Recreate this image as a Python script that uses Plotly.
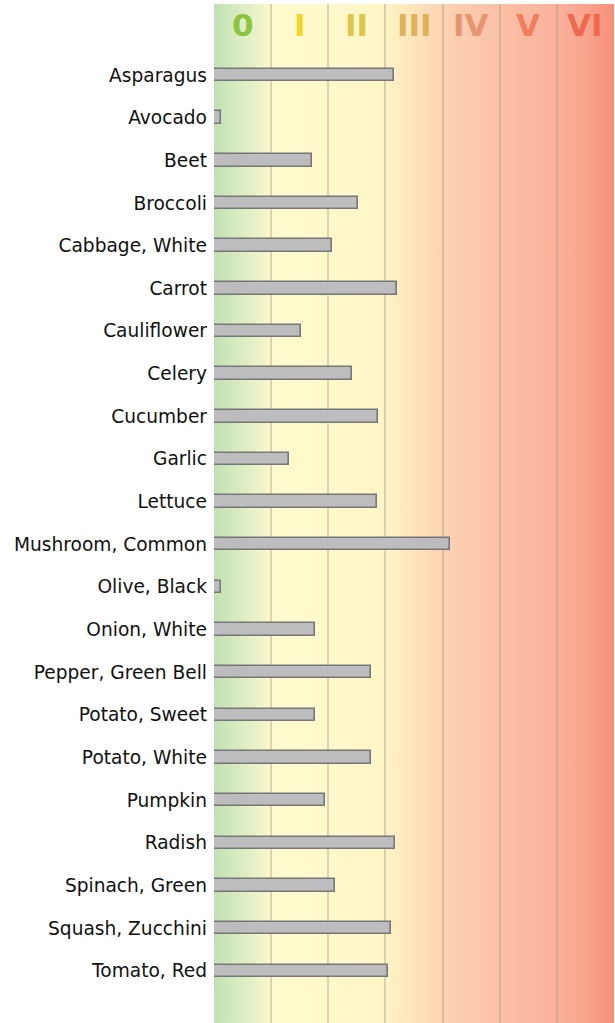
import base64
import plotly.graph_objects as go

# ---- data ----
vegetables = ["Asparagus", "Avocado", "Beet", "Broccoli", "Cabbage, White", "Carrot",
              "Cauliflower", "Celery", "Cucumber", "Garlic", "Lettuce", "Mushroom, Common",
              "Olive, Black", "Onion, White", "Pepper, Green Bell", "Potato, Sweet",
              "Potato, White", "Pumpkin", "Radish", "Spinach, Green", "Squash, Zucchini",
              "Tomato, Red"]
scores = [3.15, 0.12, 1.71, 2.52, 2.06, 3.21, 1.52, 2.41, 2.87, 1.31, 2.86, 4.13,
          0.12, 1.77, 2.75, 1.76, 2.74, 1.94, 3.17, 2.11, 3.10, 3.05]
band_labels = ["0", "I", "II", "III", "IV", "V", "VI"]
band_label_colors = ["#8cc43f", "#f1d62a", "#dcc64c", "#dfb15a", "#e69572", "#ee805e", "#ee6a4f"]
gradient_stops = [(0.0, "#bfe0b3"), (0.04, "#d0e8bc"), (0.08, "#e0eec4"), (0.125, "#f3f5cb"),
                  (0.143, "#fffacd"), (0.42, "#fff6c7"), (0.50, "#fde4bb"), (0.571, "#fcd3b2"),
                  (0.714, "#fbc0a6"), (0.857, "#fab29b"), (0.93, "#f9a38d"), (1.0, "#f68f7b")]

n = len(vegetables)
idx = list(range(n))
nb = len(band_labels)
y_top = -1.664
y_bottom = 22.22
header_bottom = -0.687
header_mid = -1.17

# gradient background as an svg image
stops = "".join(f'<stop offset="{o}" stop-color="{c}"/>' for o, c in gradient_stops)
svg = ('<svg xmlns="http://www.w3.org/2000/svg" width="700" height="100" viewBox="0 0 700 100" '
       'preserveAspectRatio="none"><defs><linearGradient id="g" x1="0" y1="0" x2="1" y2="0">'
       f'{stops}</linearGradient></defs><rect x="0" y="0" width="700" height="100" fill="url(#g)"/></svg>')
src = "data:image/svg+xml;base64," + base64.b64encode(svg.encode()).decode()

fig = go.Figure()
fig.add_trace(go.Bar(
    x=scores, y=idx, orientation="h", width=0.29,
    marker=dict(color="#bdbdbf", line=dict(color="#777777", width=1.6)),
    hoverinfo="x+text", text=vegetables, textposition="none",
))

fig.add_layout_image(dict(source=src, xref="x", yref="y", x=0, y=y_top,
                          sizex=nb, sizey=y_bottom - y_top, sizing="stretch",
                          xanchor="left", yanchor="top", layer="below"))
fig.add_shape(type="rect", xref="x", yref="y", x0=0, x1=nb, y0=y_top, y1=header_bottom,
              fillcolor="white", opacity=0.72, line=dict(width=0), layer="below")

for i, (lab, col) in enumerate(zip(band_labels, band_label_colors)):
    fig.add_annotation(x=i + 0.5, y=header_mid, xref="x", yref="y", text=lab, showarrow=False,
                       font=dict(family="DejaVu Sans", size=31, color=col, weight="bold"))

fig.update_layout(
    width=615, height=1023,
    margin=dict(l=214, r=1, t=4, b=0),
    paper_bgcolor="white", plot_bgcolor="rgba(0,0,0,0)",
    showlegend=False, bargap=0,
    xaxis=dict(range=[0, nb], tickvals=list(range(1, nb)), showticklabels=False,
               showgrid=True, gridcolor="rgba(165,155,130,0.4)", gridwidth=2,
               zeroline=False, showline=False, fixedrange=True),
    yaxis=dict(range=[y_bottom, y_top], tickvals=idx, ticktext=vegetables, ticks="",
               showgrid=False, zeroline=False, showline=False, ticklabelstandoff=6,
               tickfont=dict(family="DejaVu Sans", size=18.6, color="#111111"), fixedrange=True),
)

fig.write_html("out.html", config={"displayModeBar": False},
               post_script="document.body.style.margin='0';document.body.style.overflow='hidden';")
